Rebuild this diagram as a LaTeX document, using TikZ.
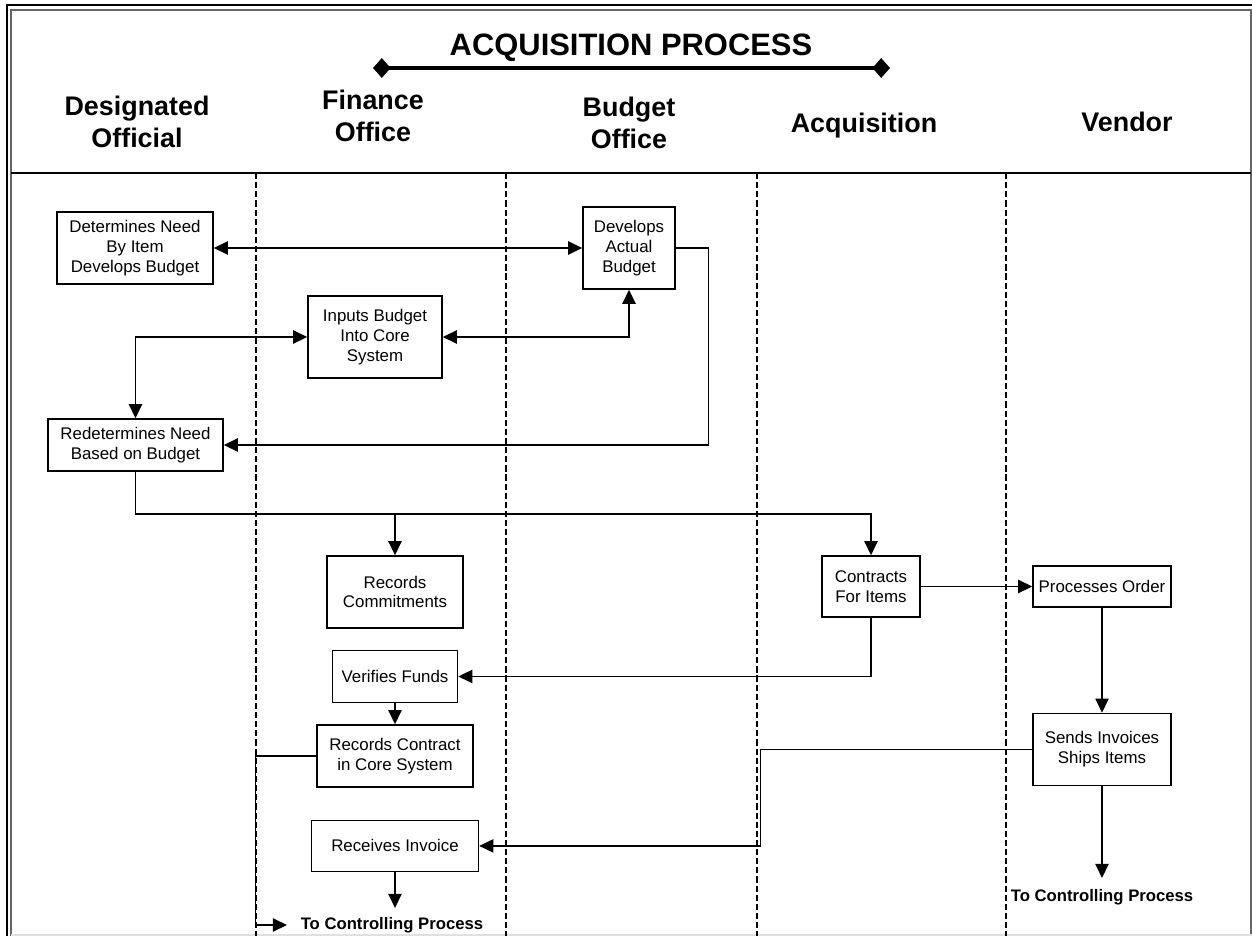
\documentclass[tikz,border=0pt]{standalone}
\usepackage{fontspec}
\setmainfont{Liberation Sans}
\usetikzlibrary{arrows.meta,positioning}
\tikzset{ACQ style/.style={x=0.02cm,y=-0.02cm,line width=0.85pt,>={Triangle[length=8pt,width=7.5pt]}}}
\tikzset{task/.style={draw,line width=0.85pt,align=center,inner sep=0pt,font=\fontsize{9.6}{11.3}\selectfont}}
\tikzset{lanehead/.style={align=center,font=\bfseries\fontsize{15.3}{18.1}\selectfont}}
\tikzset{lane/.style={dash pattern=on 3.5pt off 1.7pt,line width=0.6pt}}

\begin{document}
\begin{tikzpicture}[ACQ style]
	\tikzstyle{outcome}=[font=\bfseries\fontsize{9.5}{11}\selectfont]
	\useasboundingbox (0,0) rectangle (1252,936);
	
	% frame and header
	\draw[line width=1.1pt] (7,936) -- (7,5) -- (1252,5);
	\draw[black!60, line width=0.6pt] (11,936) -- (11,10) -- (1251,10) -- (1251,936);
	\draw[black!12, line width=1pt] (11,935) -- (1252,935);
	\draw[line width=1.7pt] (11,173) -- (1251,173);
	\foreach \lx/\lw in {256/0.6pt, 506/1.1pt, 757/0.6pt, 1006/0.6pt}
	\draw[lane, line width=\lw] (\lx,173) -- (\lx,936);
	
	\node[font=\bfseries\fontsize{17.6}{20}\selectfont] (title) at (631,48) {ACQUISITION PROCESS};
	\coordinate (barL) at (373,68);
	\coordinate (barR) at (890,68);
	\draw[{Diamond[length=10pt,width=11.3pt]}-{Diamond[length=10pt,width=11.3pt]}, line width=2.8pt] (barL) -- (barR);
	
	\node[lanehead] (hoff) at (137,122) {Designated\\Official};
	\node[lanehead] (hfin) at (373,116) {Finance\\Office};
	\node[lanehead] (hbud) at (629,123) {Budget\\Office};
	\node[lanehead] (hacq) at (864,126) {Acquisition};
	\node[lanehead] (hven) at (1127,122) {Vendor};
	
	% boxes
	\node[task, minimum width=3.12cm, minimum height=1.44cm] (need) at (135,248) {Determines Need\\By Item\\Develops Budget};
	\node[task, minimum width=1.84cm, minimum height=1.64cm] (budget) at (629,248) {Develops\\Actual\\Budget};
	\node[task, minimum width=2.68cm, minimum height=1.64cm] (inputs) at (375,337) {Inputs Budget\\Into Core\\System};
	\node[task, minimum width=3.5cm, minimum height=1.04cm] (redet) at (135.5,445) {Redetermines Need\\Based on Budget};
	
	\node[task, minimum width=2.72cm, minimum height=1.44cm] (commit) at (395,592) {Records\\Commitments};
	\node[task, minimum width=2.5cm, minimum height=1.04cm, below=0.42cm of commit] (verify) {Verifies Funds};
	\node[task, minimum width=3.12cm, minimum height=1.24cm, below=0.42cm of verify] (contract) {Records Contract\\in Core System};
	\node[task, minimum width=3.34cm, minimum height=1.02cm, below=0.64cm of contract] (invoice) {Receives Invoice};
	
	\node[task, minimum width=1.96cm, minimum height=1.22cm] (items) at (871,586.5) {Contracts\\For Items};
	\node[task, minimum width=2.76cm, minimum height=0.82cm] (order) at (1102,586.5) {Processes Order};
	\node[task, minimum width=2.76cm, minimum height=1.44cm, below=2.1cm of order] (ship) {Sends Invoices\\Ships Items};
	
	\node[outcome, anchor=west, inner xsep=7.4pt] (ctrlA) at (287,925) {To Controlling Process};
	\node[outcome] (ctrlB) at (1102,897) {To Controlling Process};
	\coordinate (endA) at (395,908);
	\coordinate (endB) at (1102,878);
	\coordinate (fork) at (395,514);
	
	% connectors
	\path[<->]
	(need) edge (budget)
	;
	\path[->]
	(items) edge (order)
	(order) edge (ship)
	(verify) edge (contract)
	(invoice) edge (endA)
	(ship) edge (endB)
	(fork) edge (commit.north)
	;
	\draw[<->] (inputs.east) -| (budget.south);
	\draw[<->] (inputs.west) -| (redet.north);
	\draw[->] (budget.east) -- ++(33,0) |- (redet.east);
	\draw[->] (redet.south) |- (fork) -| (items.north);
	\draw[->] (items.south) |- (verify.east);
	\draw[->] (ship.west) -- ++(-272,0) |- (invoice.east);
	\draw[->] (contract.west) -- ++(-61,0) |- (ctrlA.west);
\end{tikzpicture}
\end{document}
